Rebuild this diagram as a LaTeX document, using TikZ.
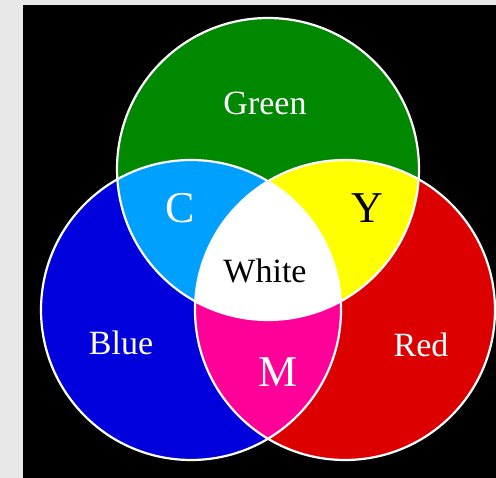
\documentclass[tikz,border=0pt]{standalone}
\usepackage{fontspec}
\setmainfont{Liberation Serif}
\definecolor{pagegray}{RGB}{232, 232, 232}
\definecolor{mixgreen}{RGB}{0, 136, 0}
\definecolor{mixblue}{RGB}{0, 0, 221}
\definecolor{mixred}{RGB}{221, 0, 0}
\definecolor{mixcyan}{RGB}{0, 160, 255}
\definecolor{mixyellow}{RGB}{255, 255, 0}
\definecolor{mixmagenta}{RGB}{255, 0, 153}
\usetikzlibrary{positioning}

\begin{document}
\begin{tikzpicture}[x=1pt, y=-1pt,
    ring/.style={draw=white, line width=2.2pt},
    word/.style={font=\fontsize{34}{34}\selectfont, inner sep=0pt},
    letter/.style={font=\fontsize{44}{44}\selectfont, inner sep=0pt}]
  \def\greendisc{(268,169) circle[radius=151pt]}
  \def\bluedisc{(191,310) circle[radius=150pt]}
  \def\reddisc{(345,310) circle[radius=150pt]}

  % page and black panel
  \fill[pagegray] (0,0) rectangle (496,478);
  \fill[black] (23,5) rectangle (496,478);
  \useasboundingbox (0,0) rectangle (496,478);

  % primary discs
  \fill[mixblue] \bluedisc;
  \fill[mixred] \reddisc;
  \fill[mixgreen] \greendisc;

  % overlaps
  \begin{scope}
    \clip \greendisc;
    \fill[mixcyan] \bluedisc;
    \fill[mixyellow] \reddisc;
  \end{scope}
  \begin{scope}
    \clip \bluedisc;
    \fill[mixmagenta] \reddisc;
    \clip \reddisc;
    \fill[white] \greendisc;
  \end{scope}

  % outlines
  \draw[ring] \bluedisc;
  \draw[ring] \reddisc;
  \draw[ring] \greendisc;

  % labels
  \node[word, text=white] (green) at (265,103) {Green};
  \node[letter, text=white] (cyan) at (180,208) {C};
  \node[letter, text=black] (yellow) at (367,208) {Y};
  \node[word, text=black] (white) at (265,271) {White};
  \node[word, text=white] (blue) at (121,343) {Blue};
  \node[letter, text=white] (magenta) at (278,372) {M};
  \node[word, text=white] (red) at (421,345) {Red};
\end{tikzpicture}
\end{document}
